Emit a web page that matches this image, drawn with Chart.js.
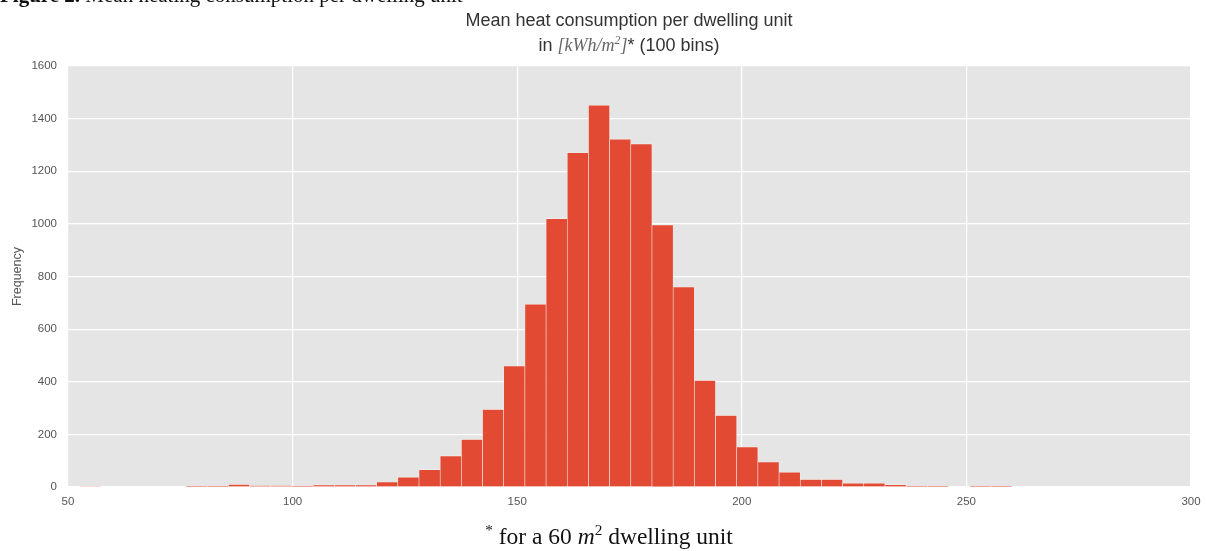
<!DOCTYPE html>
<html>
<head>
<meta charset="utf-8">
<script src="https://cdn.jsdelivr.net/npm/chart.js@4/dist/chart.umd.min.js"></script>
<style>
  body { margin: 0; background: #fff; width: 1206px; height: 551px; overflow: hidden; position: relative; }
  #wrap { position: absolute; left: 0; top: 0; width: 1206px; height: 551px; }
  .caption { position: absolute; left: 0; top: -15px; font-family: "Liberation Serif", serif; font-size: 21px; line-height: 21px; color: #111; white-space: nowrap; }
  .title { position: absolute; left: 0; width: 1258px; text-align: center; font-family: "Liberation Sans", Arial, sans-serif; font-size: 18px; color: #333; white-space: nowrap; }
  .title .m { font-family: "Liberation Serif", serif; font-style: italic; color: #666; }
  .foot { position: absolute; left: 0; width: 1218px; top: 523px; text-align: center; font-family: "Liberation Serif", serif; font-size: 23.5px; color: #111; white-space: nowrap; }
  sup { font-size: 0.65em; line-height: 0; }
</style>
</head>
<body>
<div id="wrap"><canvas id="heatChart" width="1206" height="551"></canvas></div>
<div class="caption"><b>Figure 2.</b> Mean heating consumption per dwelling unit</div>
<div class="title" style="top: 10px;">Mean heat consumption per dwelling unit</div>
<div class="title" style="top: 35px;">in <span class="m">[kWh/m<sup>2</sup>]</span>* (100 bins)</div>
<div class="foot"><sup>*</sup> for a 60 <i>m</i><sup>2</sup> dwelling unit</div>
<script>
// histogram bins (kWh/m2), 100 bins in total; only the first 44 fall inside the axis
const binStart = 52.7;
const binWidth = 4.715;
const counts = [2, 0, 0, 0, 0, 1, 1, 10, 5, 5,
                1, 8, 8, 8, 19, 37, 66, 118, 181, 295,
                460, 695, 1020, 1270, 1451, 1322, 1304, 996, 760, 405,
                272, 152, 95, 56, 29, 29, 14, 14, 9, 1,
                1, 0, 1, 1];
const xTicks = [50, 100, 150, 200, 250, 300];
const yTicks = [0, 200, 400, 600, 800, 1000, 1200, 1400, 1600];

const points = counts.map((c, i) => ({ x: binStart + binWidth * (i + 0.5), y: c }));

// grey ggplot-like panel
const panelBg = {
    id: 'panelBg',
    beforeDraw(chart) {
        const a = chart.chartArea;
        const ctx = chart.ctx;
        ctx.save();
        ctx.fillStyle = '#E5E5E5';
        ctx.fillRect(a.left, a.top, a.right - a.left, a.bottom - a.top);
        ctx.restore();
    }
};

const tickFont = { family: '"Liberation Sans", Arial, sans-serif', size: 11.5 };

const ctx = document.getElementById('heatChart').getContext('2d');
const heatChart = new Chart(ctx, {
    type: 'bar',
    data: {
        datasets: [{
            data: points,
            backgroundColor: '#E24A33',
            borderColor: 'rgba(255,255,255,0.6)',
            borderWidth: 0.6,
            barPercentage: 1,
            categoryPercentage: 1,
            grouped: false
        }]
    },
    options: {
        responsive: false,
        animation: false,
        layout: { padding: { left: 0, right: 15, top: 66, bottom: 44 } },
        plugins: { legend: { display: false }, tooltip: { enabled: false } },
        scales: {
            x: {
                type: 'linear',
                min: 50,
                max: 300,
                offset: false,
                afterBuildTicks(scale) { scale.ticks = xTicks.map(v => ({ value: v })); },
                afterFit(scale) { scale.height = 20; scale.paddingRight = 0; scale.paddingLeft = 0; },
                ticks: { autoSkip: false, maxRotation: 0, padding: 8, color: '#555', font: tickFont, callback: v => String(v) },
                grid: { color: '#FFFFFF', lineWidth: 1.2, drawTicks: false, offset: false },
                border: { display: false }
            },
            y: {
                min: 0,
                max: 1600,
                afterBuildTicks(scale) { scale.ticks = yTicks.map(v => ({ value: v })); },
                afterFit(scale) { scale.width = 68; },
                ticks: { padding: 11, color: '#555', font: tickFont, callback: v => String(v) },
                grid: { color: '#FFFFFF', lineWidth: 1.2, drawTicks: false },
                border: { display: false },
                title: { display: true, text: 'Frequency', color: '#555', padding: { top: 10, bottom: 0 }, font: { family: '"Liberation Sans", Arial, sans-serif', size: 12.5 } }
            }
        }
    },
    plugins: [panelBg]
});
</script>
</body>
</html>
